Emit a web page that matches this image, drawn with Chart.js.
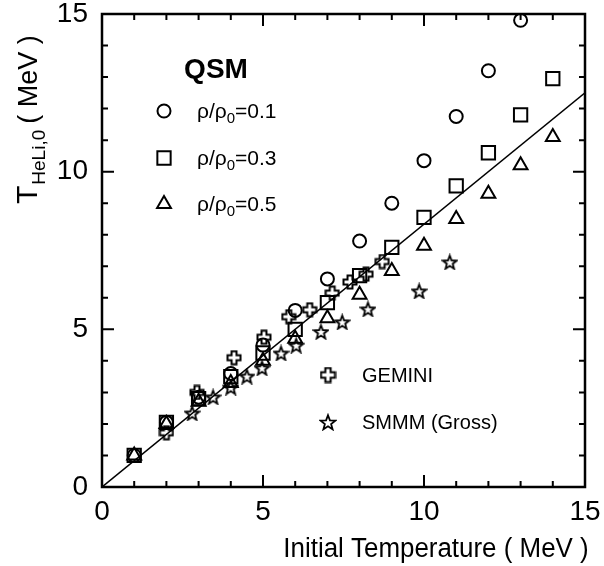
<!DOCTYPE html>
<html>
<head>
<meta charset="utf-8">
<script src="https://cdn.jsdelivr.net/npm/chart.js@4.4.1/dist/chart.umd.min.js"></script>
<style>
  html, body { margin: 0; padding: 0; background: #fff; }
</style>
</head>
<body>
<canvas id="c" width="604" height="566"></canvas>
<script>
// QSM points, one per initial temperature
const qsmT01 = [1, 2, 3, 4, 5, 6, 7, 8, 9, 10, 11, 12, 13];
const qsm01 = [1.0, 2.05, 2.85, 3.6, 4.5, 5.6, 6.6, 7.8, 9.0, 10.35, 11.75, 13.2, 14.8];
const qsmT03 = [1, 2, 3, 4, 5, 6, 7, 8, 9, 10, 11, 12, 13, 14];
const qsm03 = [1.0, 2.05, 2.8, 3.5, 4.25, 5.0, 5.85, 6.7, 7.6, 8.55, 9.55, 10.6, 11.8, 12.95];
const qsmT05 = [1, 2, 3, 4, 5, 6, 7, 8, 9, 10, 11, 12, 13, 14];
const qsm05 = [1.0, 2.0, 2.7, 3.3, 4.0, 4.7, 5.35, 6.1, 6.85, 7.65, 8.5, 9.3, 10.2, 11.1];

// GEMINI
const gemX = [2.0, 2.95, 4.1, 5.03, 5.8, 6.45, 7.15, 7.7, 8.2, 8.7];
const gemY = [1.72, 3.0, 4.1, 4.75, 5.4, 5.62, 6.15, 6.5, 6.75, 7.15];

// SMMM (Gross)
const smmX = [2.8, 3.45, 4.0, 4.5, 4.97, 5.56, 6.03, 6.8, 7.46, 8.26, 9.85, 10.8];
const smmY = [2.35, 2.86, 3.17, 3.52, 3.78, 4.25, 4.5, 4.93, 5.24, 5.65, 6.22, 7.14];

// reference line
const lineX = [0, 15];
const lineY = [0, 12.5];

const axisTicks = [0, 5, 10, 15];

const FONT = '"Liberation Sans", Arial, sans-serif';

function pts(xs, ys) {
  return xs.map((x, i) => ({ x: x, y: ys[i] }));
}

// hollow plus sign
function makeCross(size) {
  const c = document.createElement("canvas");
  c.width = size; c.height = size;
  const g = c.getContext("2d");
  const m = size / 2, s = size / 2 - 1.5, a = s * 0.38;
  g.lineWidth = 2;
  g.strokeStyle = "#000";
  g.beginPath();
  g.moveTo(m - a, m - s); g.lineTo(m + a, m - s); g.lineTo(m + a, m - a);
  g.lineTo(m + s, m - a); g.lineTo(m + s, m + a); g.lineTo(m + a, m + a);
  g.lineTo(m + a, m + s); g.lineTo(m - a, m + s); g.lineTo(m - a, m + a);
  g.lineTo(m - s, m + a); g.lineTo(m - s, m - a); g.lineTo(m - a, m - a);
  g.closePath();
  g.stroke();
  return c;
}

// hollow five point star
function makeStar(size) {
  const c = document.createElement("canvas");
  c.width = size; c.height = size;
  const g = c.getContext("2d");
  const m = size / 2, ro = size / 2 - 1.2, ri = ro * 0.42;
  g.lineWidth = 1.8;
  g.strokeStyle = "#000";
  g.beginPath();
  for (let i = 0; i < 10; i++) {
    const r = i % 2 ? ri : ro;
    const ang = -Math.PI / 2 + i * Math.PI / 5;
    const px = m + r * Math.cos(ang), py = m + 1 + r * Math.sin(ang);
    if (i === 0) g.moveTo(px, py); else g.lineTo(px, py);
  }
  g.closePath();
  g.stroke();
  return c;
}

const crossImg = makeCross(16);
const starImg = makeStar(17);
const crossImgL = makeCross(17);
const starImgL = makeStar(18);

function marker(style, r) {
  return {
    type: "scatter",
    pointStyle: style,
    pointRadius: r,
    pointBorderWidth: 2,
    borderColor: "#000",
    backgroundColor: "rgba(0,0,0,0)",
    pointHoverRadius: r
  };
}

const framePlugin = {
  id: "frame",
  afterDraw(chart) {
    const ctx = chart.ctx;
    const a = chart.chartArea;
    const xs = chart.scales.x, ys = chart.scales.y;
    ctx.save();
    ctx.strokeStyle = "#000";
    ctx.lineWidth = 2.5;
    ctx.strokeRect(a.left, a.top, a.right - a.left, a.bottom - a.top);

    // inward ticks on all four sides
    ctx.lineWidth = 2;
    for (let v = 1; v < 15; v++) {
      const len = v % 5 === 0 ? 12 : 6;
      const px = xs.getPixelForValue(v);
      const py = ys.getPixelForValue(v);
      ctx.beginPath();
      ctx.moveTo(px, a.bottom); ctx.lineTo(px, a.bottom - len);
      ctx.moveTo(px, a.top); ctx.lineTo(px, a.top + len);
      ctx.moveTo(a.left, py); ctx.lineTo(a.left + len, py);
      ctx.moveTo(a.right, py); ctx.lineTo(a.right - len, py);
      ctx.stroke();
    }

    ctx.fillStyle = "#000";
    ctx.textBaseline = "alphabetic";

    // x title
    ctx.save();
    ctx.font = "27px " + FONT;
    ctx.textAlign = "center";
    ctx.translate(436, 557);
    ctx.scale(0.96, 1);
    ctx.fillText("Initial Temperature ( MeV )", 0, 0);
    ctx.restore();

    // y title with subscript
    ctx.save();
    ctx.translate(37, 204);
    ctx.rotate(-Math.PI / 2);
    ctx.textAlign = "left";
    ctx.font = "30px " + FONT;
    let x = 0;
    ctx.fillText("T", x, 0);
    x += ctx.measureText("T").width + 1;
    ctx.font = "19px " + FONT;
    ctx.fillText("HeLi,0", x, 8);
    x += ctx.measureText("HeLi,0").width + 6;
    ctx.font = "27px " + FONT;
    ctx.fillText("( MeV )", x, 0);
    ctx.restore();

    // QSM legend block
    ctx.font = "bold 28px " + FONT;
    ctx.textAlign = "center";
    ctx.fillText("QSM", 216, 78);

    const rows = [
      { style: "circle", r: 6.5, label: "0.1", y: 111 },
      { style: "rect", r: 9.4, label: "0.3", y: 158 },
      { style: "triangle", r: 8, label: "0.5", y: 204 }
    ];
    ctx.textAlign = "left";
    ctx.lineWidth = 2;
    rows.forEach(row => {
      ctx.fillStyle = "rgba(0,0,0,0)";
      Chart.helpers.drawPoint(ctx, { pointStyle: row.style, radius: row.r, borderWidth: 2 }, 164, row.y);
      ctx.fillStyle = "#000";
      let tx = 197;
      const base = row.y + 7;
      ctx.font = "21px " + FONT;
      ctx.fillText("\u03c1/\u03c1", tx, base);
      tx += ctx.measureText("\u03c1/\u03c1").width;
      ctx.font = "15px " + FONT;
      ctx.fillText("0", tx, base + 5);
      tx += ctx.measureText("0").width;
      ctx.font = "21px " + FONT;
      ctx.fillText("=" + row.label, tx, base);
    });

    // GEMINI / SMMM legend
    ctx.drawImage(crossImgL, 328 - 8.5, 375 - 8.5);
    ctx.drawImage(starImgL, 328 - 9, 422 - 9);
    ctx.font = "20px " + FONT;
    ctx.fillText("GEMINI", 362, 382);
    ctx.fillText("SMMM (Gross)", 362, 429);
    ctx.restore();
  }
};

new Chart(document.getElementById("c"), {
  type: "scatter",
  data: {
    datasets: [
      { type: "scatter", label: "line", data: pts(lineX, lineY), showLine: true, borderWidth: 1.5, borderColor: "#000", pointRadius: 0 },
      Object.assign({ label: "rho 0.1", data: pts(qsmT01, qsm01) }, marker("circle", 6.5)),
      Object.assign({ label: "rho 0.3", data: pts(qsmT03, qsm03) }, marker("rect", 9.4)),
      Object.assign({ label: "rho 0.5", data: pts(qsmT05, qsm05) }, marker("triangle", 8)),
      Object.assign({ label: "GEMINI", data: pts(gemX, gemY) }, marker(crossImg, 8)),
      Object.assign({ label: "SMMM (Gross)", data: pts(smmX, smmY) }, marker(starImg, 8))
    ]
  },
  options: {
    responsive: false,
    animation: false,
    devicePixelRatio: 1,
    layout: { padding: { top: 14, right: 19, left: 0, bottom: 0 } },
    plugins: { legend: { display: false }, tooltip: { enabled: false } },
    scales: {
      x: {
        type: "linear", min: 0, max: 15,
        afterBuildTicks: s => { s.ticks = axisTicks.map(v => ({ value: v })); },
        afterFit: s => { s.height = 79; s.paddingLeft = 0; s.paddingRight = 0; },
        grid: { display: false, drawTicks: false },
        border: { display: false },
        ticks: { color: "#000", padding: 8, font: { family: FONT, size: 28 } }
      },
      y: {
        type: "linear", min: 0, max: 15,
        afterBuildTicks: s => { s.ticks = axisTicks.map(v => ({ value: v })); },
        afterFit: s => { s.width = 102; s.paddingTop = 0; s.paddingBottom = 0; },
        grid: { display: false, drawTicks: false },
        border: { display: false },
        ticks: { color: "#000", padding: 14, font: { family: FONT, size: 28 } }
      }
    }
  },
  plugins: [framePlugin]
});
</script>
</body>
</html>
